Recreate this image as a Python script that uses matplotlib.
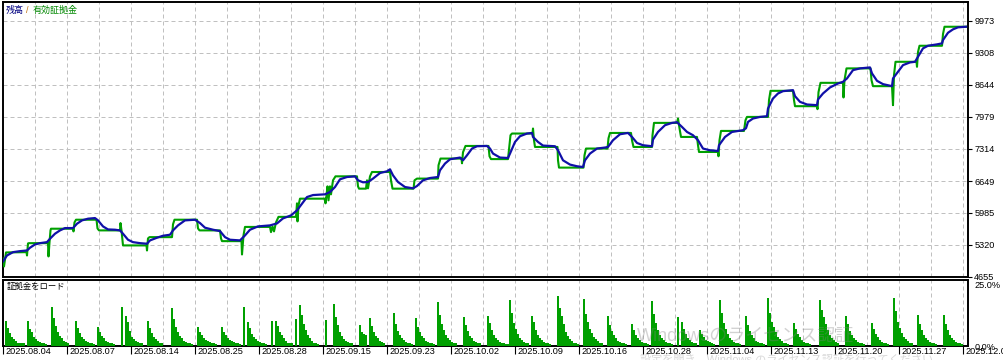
import numpy as np
import matplotlib.pyplot as plt
from matplotlib.transforms import ScaledTranslation, blended_transform_factory

plt.rcParams['font.family'] = ['Liberation Sans', 'Noto Sans CJK JP', 'DejaVu Sans']

# balance curve: (deal index, value)
balance = [
    (0, 4978), (2, 5102), (5, 5171), (8.5, 5192), (12, 5206), (13.5, 5263), (16, 5331), (18.5, 5358),
    (22, 5379), (23.5, 5450), (26, 5554), (28.5, 5623), (31, 5671), (35, 5671), (37, 5762), (39.5, 5831),
    (42.5, 5866), (46, 5879), (47.5, 5831), (50, 5706), (52.5, 5643), (56, 5637), (58.5, 5623), (60, 5554),
    (62.5, 5429), (65, 5379), (68.5, 5358), (72, 5346), (73.5, 5415), (77, 5471), (80, 5512), (83.5, 5533),
    (85, 5623), (87.5, 5727), (91, 5831), (96, 5845), (98.5, 5775), (101, 5679), (105, 5637), (108.5, 5608),
    (111, 5483), (113.5, 5429), (118.5, 5415), (121, 5519), (123.5, 5637), (127.5, 5706), (133.5, 5727),
    (137, 5768), (140, 5872), (144, 5935), (147, 6039), (149.5, 6178), (152, 6316), (155, 6357), (161, 6372),
    (163.5, 6420), (166, 6524), (168.5, 6684), (172, 6732), (176, 6746), (177.5, 6663), (180, 6622),
    (182.5, 6628), (185, 6699), (188.5, 6815), (192, 6850), (193.5, 6892), (195, 6767), (197.5, 6628),
    (201, 6524), (205, 6497), (207, 6545), (210, 6663), (213.5, 6711), (217.5, 6732), (218.5, 6871),
    (221, 7011), (223.5, 7100), (228.5, 7136), (230, 7079), (232, 7183), (234.5, 7323), (237, 7371),
    (242, 7377), (243.5, 7323), (245, 7219), (248.5, 7136), (252.5, 7127), (253.5, 7219), (256, 7460),
    (258.5, 7579), (262, 7635), (264.5, 7647), (265, 7564), (267.5, 7460), (270, 7385), (276, 7371),
    (277.5, 7287), (280, 7079), (283.5, 6990), (287, 6955), (290, 6940), (291, 7079), (293.5, 7219),
    (297, 7323), (301, 7344), (302.5, 7356), (305, 7496), (308.5, 7620), (312.5, 7647), (314.5, 7564),
    (317, 7439), (320, 7392), (324.5, 7371), (325, 7510), (327.5, 7668), (331, 7808), (334.5, 7856),
    (337, 7870), (339.5, 7772), (342, 7668), (345, 7600), (347.5, 7496), (350, 7323), (353.5, 7287),
    (357.5, 7273), (358, 7392), (361, 7564), (364.5, 7668), (370, 7704), (371.5, 7745), (372.5, 7876),
    (375, 7947), (378.5, 7980), (382, 7995), (382.5, 8155), (385, 8363), (387.5, 8467), (390, 8515),
    (395, 8536), (396, 8411), (398.5, 8293), (402, 8238), (407, 8224), (407.5, 8343), (410, 8467),
    (413.5, 8592), (417.5, 8675), (420, 8709), (422, 8780), (425, 8952), (428.5, 8988), (433.5, 9008),
    (434.5, 8884), (437, 8730), (440, 8661), (444.5, 8619), (445, 8780), (447.5, 8917), (450, 9056),
    (453.5, 9112), (456, 9125), (457.5, 9229), (460, 9404), (462.5, 9458), (467, 9487), (469.5, 9508),
    (470, 9577), (472.5, 9728), (475, 9799), (477.5, 9841), (481.5, 9853),
]

# equity curve: (deal index, value)
equity = [
    (0, 5040), (0.5, 4874), (1.5, 5165), (11.75, 5171), (12, 5102), (12.5, 5352), (13, 5358),
    (22.5, 5358), (22.75, 5082), (23.25, 5373), (23.75, 5623), (24, 5658),
    (35, 5658), (35.25, 5602), (35.75, 5789), (36.5, 5845),
    (46.75, 5845), (47.25, 5664), (48, 5623),
    (58.5, 5623), (58.75, 5775), (59.25, 5623), (60, 5311),
    (71.75, 5311), (72, 5206), (72.5, 5456), (73.25, 5483),
    (84.5, 5483), (85, 5748), (85.75, 5845),
    (97, 5845), (97.5, 5664), (98.25, 5623),
    (108.5, 5623), (109, 5456), (109.5, 5400),
    (119.25, 5400), (119.5, 5123), (120.25, 5519), (121, 5695),
    (133.5, 5695), (134, 5587), (134.75, 5706), (135.5, 5602), (136.5, 5789), (137.75, 5904),
    (146.5, 5904), (147, 6185), (147.25, 5810), (147.75, 6143), (148.5, 6282),
    (161, 6282), (161.25, 6185), (161.75, 6351), (162.25, 6538), (162.75, 6247), (163.5, 6538),
    (164, 6372), (165, 6663), (166.25, 6746),
    (177, 6746), (177.5, 6538), (178, 6490),
    (181.5, 6490), (182, 6663), (182.5, 6497), (183.5, 6746), (184.5, 6836),
    (193.5, 6836), (194, 6663), (194.75, 6490),
    (205.25, 6490), (205.75, 6663), (207, 6699),
    (217.5, 6699), (217.75, 6975), (218.75, 7115),
    (229.25, 7115), (229.5, 7017), (230, 7246), (231.25, 7377),
    (242.75, 7377), (243.25, 7163), (244, 7104),
    (252.5, 7104), (253.25, 7392), (253.75, 7600), (254.5, 7635),
    (264.75, 7635), (265, 7739), (265.5, 7496), (266, 7356),
    (277.25, 7356), (277.5, 7079), (278, 6927),
    (290.25, 6927), (290.75, 7183), (291.5, 7323),
    (302.25, 7323), (302.75, 7537), (303.5, 7647),
    (314, 7647), (314.5, 7496), (315.25, 7356),
    (324.5, 7356), (324.75, 7600), (325.5, 7856),
    (337, 7856), (337.5, 7947), (338.25, 7745), (339, 7564),
    (347, 7564), (347.5, 7392), (348, 7252),
    (357.5, 7252), (357.75, 7163), (358.25, 7496), (359, 7689),
    (370.5, 7689), (371.25, 7912), (372, 7980),
    (382.5, 7980), (383, 8328), (383.75, 8522),
    (395, 8522), (395.5, 8328), (396, 8203),
    (407, 8203), (407.25, 8141), (407.75, 8494), (408.75, 8688),
    (420, 8688), (420.25, 8384), (420.75, 8744), (421.75, 8988),
    (433.75, 8988), (434.25, 8744), (435, 8619),
    (444.5, 8619), (445, 8224), (445.5, 8848), (446.25, 9125),
    (456.75, 9125), (457, 9021), (457.5, 9327), (458.25, 9458),
    (469.5, 9458), (470, 9701), (470.75, 9853), (481.5, 9853),
]

# deposit load (%): first deal index of each run, and the loads of that run
load_start = [1, 12, 24, 36, 47, 59, 72, 84, 97, 109, 120, 134, 146, 161, 178, 195, 206, 217, 230, 242,
              253, 264, 277, 290, 302, 314, 324, 337, 348, 358, 371, 382, 395, 408, 421, 434, 445, 457, 470]
load_values = [
    [9.6, 6.8, 4.9, 3.6, 2.6, 1.9, 1.3, 1.0, 1.0, 1.0],
    [9.6, 6.5, 5.2, 3.6, 2.6, 1.9, 1.5, 1.3, 1.0, 0.8],
    [15.1, 10.6, 7.7, 5.5, 3.8, 2.9, 2.1, 1.5, 1.0],
    [9.6, 6.8, 4.9, 3.6, 2.6, 1.9, 1.5, 1.3, 1.0, 0.8],
    [7.4, 5.5, 3.8, 2.9, 2.1, 1.5, 1.3, 1.0, 0.8],
    [15.1, 0, 11.7, 9.4, 5.8, 3.6, 2.6, 1.9, 1.5, 1.3, 1.0],
    [9.6, 6.8, 4.9, 3.6, 2.6, 1.9, 1.3, 1.0],
    [14.7, 10.3, 7.4, 5.3, 3.8, 2.9, 2.1, 1.5, 1.3, 1.0, 0.8],
    [7.4, 5.5, 4.2, 3.2, 2.4, 1.8, 1.4, 1.2, 1.0, 0.8],
    [7.4, 5.5, 4.2, 3.2, 2.4, 1.8, 1.4, 1.2, 1.0, 0.8],
    [15.1, 0, 9.4, 6.8, 4.6, 3.6, 2.6, 1.9, 1.5, 1.3, 1.0, 0.8],
    [9.7, 0, 9.8, 7.7, 5.5, 4.2, 2.9, 2.1, 1.3, 1.0, 1.0],
    [10.4, 0, 15.8, 11.8, 8.5, 6.0, 4.2, 2.9, 2.1, 1.3, 1.0, 0.8],
    [9.9, 0, 0, 0, 16.2, 11.0, 8.1, 5.5, 3.8, 2.6, 1.9, 1.5, 1.3, 1.0],
    [8.1, 5.5, 4.5, 4.2, 0, 10.7, 7.7, 5.5, 3.8, 2.9, 2.1, 1.5, 1.0],
    [12.8, 8.5, 5.9, 4.2, 2.9, 2.3, 1.7, 1.3, 1.0, 0.8],
    [10.7, 7.4, 5.3, 3.8, 2.9, 2.1, 1.5, 1.3, 1.0, 0.8],
    [17.1, 11.8, 8.5, 6.0, 4.2, 3.0, 2.2, 1.6, 1.3, 1.0],
    [11.3, 7.9, 5.7, 4.0, 2.9, 2.1, 1.5, 1.3, 1.0],
    [11.7, 8.7, 6.0, 4.2, 3.0, 2.2, 1.6, 1.3, 1.0, 0.8, 0.8],
    [17.7, 12.8, 9.0, 6.4, 4.5, 3.2, 2.3, 1.7, 1.3, 1.0],
    [11.7, 9.4, 6.2, 4.2, 3.0, 2.2, 1.6, 1.3, 1.0, 0.8],
    [19.2, 14.7, 11.5, 8.3, 5.5, 3.8, 2.6, 1.8, 1.3, 1.0, 0.8],
    [17.9, 12.5, 9.3, 6.7, 4.9, 3.6, 2.6, 1.8, 1.3, 1.0],
    [11.5, 8.1, 5.8, 4.1, 2.9, 2.1, 1.5, 1.3, 1.0, 0.8],
    [8.5, 6.0, 4.3, 3.0, 2.2, 1.6, 1.3, 1.0, 0.8],
    [17.3, 12.5, 8.7, 6.1, 4.3, 3.0, 2.2, 1.6, 1.3, 1.0, 0.8],
    [11.3, 0, 9.4, 6.4, 4.5, 3.2, 2.3, 1.7, 1.3, 1.0],
    [6.2, 4.5, 3.3, 2.5, 1.9, 1.4, 1.1, 0.8],
    [17.7, 12.8, 9.0, 6.4, 4.5, 3.2, 2.3, 1.7, 1.3, 1.0, 0.8],
    [11.5, 8.1, 5.8, 4.1, 2.9, 2.1, 1.5, 1.3, 1.0, 0.8],
    [18.6, 12.8, 9.4, 7.4, 5.5, 3.6, 2.6, 1.9, 1.3, 1.0, 0.8],
    [9.0, 6.4, 4.6, 3.3, 2.4, 1.7, 1.3, 1.0, 0.8],
    [17.7, 13.8, 11.0, 8.5, 6.0, 4.2, 2.9, 2.3, 1.7, 1.3],
    [11.7, 8.3, 5.9, 4.2, 3.0, 2.2, 1.6, 1.3, 1.0, 0.8],
    [9.0, 6.4, 4.6, 3.3, 2.4, 1.7, 1.3, 1.0, 0.8],
    [18.6, 13.3, 9.4, 6.8, 4.9, 3.6, 2.6, 1.9, 1.3, 1.0],
    [11.9, 8.3, 6.0, 4.2, 3.0, 2.2, 1.6, 1.3, 1.0, 0.8],
    [11.9, 8.3, 6.0, 4.2, 3.0, 2.2, 1.6, 1.3, 1.0, 0.8],
]

y_ticks = [4655, 5320, 5985, 6649, 7314, 7979, 8644, 9308, 9973]
date_labels = ['2025.08.04', '2025.08.07', '2025.08.14', '2025.08.25', '2025.08.28', '2025.09.15',
               '2025.09.23', '2025.10.02', '2025.10.09', '2025.10.16', '2025.10.28', '2025.11.04',
               '2025.11.13', '2025.11.20', '2025.11.27', '2025.12.02']

BLUE = '#1010a8'
GREEN = '#00a000'
GRID = '#c0c0c0'
W, H = 1004, 360


def box(l, t, r, b):
    return [l / W, 1 - b / H, (r - l) / W, (b - t) / H]


fig = plt.figure(figsize=(W / 100, H / 100), dpi=100)
ax = fig.add_axes(box(3, 2, 968, 277))
ax2 = fig.add_axes(box(3, 280, 968, 346))

bx, bv = np.array(balance).T
ex, ev = np.array(equity).T
ax.plot(ex, ev, color=GREEN, lw=1.5, zorder=3)
ax.plot(bx, bv, color=BLUE, lw=1.6, zorder=4)

bar_x, bar_h = [], []
for s, vals in zip(load_start, load_values):
    for i, v in enumerate(vals):
        bar_x.append(s + i)
        bar_h.append(v)
ax2.bar(bar_x, bar_h, width=1.0, color=GREEN, linewidth=0, align='edge', zorder=3)

major = np.arange(0, 481, 32)
minor = np.arange(16, 481, 32)
for a in (ax, ax2):
    a.set_xlim(0, 482.5)
    a.set_xticks(major)
    a.set_xticks(minor, minor=True)
    a.grid(which='both', axis='x', color=GRID, lw=0.72, linestyle=(0, (4, 3)), zorder=1)
    for sp in a.spines.values():
        sp.set_linewidth(1.4)
        sp.set_color('black')
    a.tick_params(axis='x', which='minor', length=0)

ax.set_ylim(4655, 10367)
ax.set_yticks(y_ticks)
ax.grid(axis='y', color=GRID, lw=0.72, linestyle=(0, (4, 3)), zorder=1)
ax.tick_params(axis='x', which='major', length=0, labelbottom=False)
ax.tick_params(axis='y', left=False, right=True, labelleft=False, labelright=True,
               length=3, width=0.8, pad=1.5, labelsize=6.6)

ax2.set_ylim(0, 25.4)
ax2.set_yticks([0, 25], ['0.0%', '25.0%'])
ax2.tick_params(axis='y', left=False, right=True, labelleft=False, labelright=True,
                length=0, pad=5, labelsize=6.6)
ax2.get_yticklabels()[1].set_va('top')
ax2.tick_params(axis='x', which='major', length=6, width=0.8, labelbottom=False)

trans = blended_transform_factory(ax2.transData, ax2.transAxes) + \
    ScaledTranslation(2 / 100, -1 / 100, fig.dpi_scale_trans)
for x, lab in zip(major, date_labels):
    ax2.text(x, 0, lab, transform=trans, ha='left', va='top', fontsize=6.6,
             color='black', clip_on=False)

# legend-like captions
fig.text(6 / W, 1 - 10.5 / H, '残高', color='#000080', fontsize=6.5, va='center')
fig.text(26 / W, 1 - 10.5 / H, '/', color='#c07010', fontsize=6.5, va='center')
fig.text(33 / W, 1 - 10.5 / H, '有効証拠金', color='#008800', fontsize=6.5, va='center')
fig.text(7 / W, 1 - 287 / H, '証拠金をロード', color='black', fontsize=6, va='center')

# OS watermark overlay
fig.text(637 / W, 1 - 337 / H, 'Windowsのライセンス認証', color='#808080', alpha=0.35,
         fontsize=13, va='center')
fig.text(640 / W, 1 - 359 / H, '設定を開き、Windows のライセンス認証を行ってください。',
         color='#808080', alpha=0.3, fontsize=8, va='center')

fig.savefig('out.png', dpi=100)
